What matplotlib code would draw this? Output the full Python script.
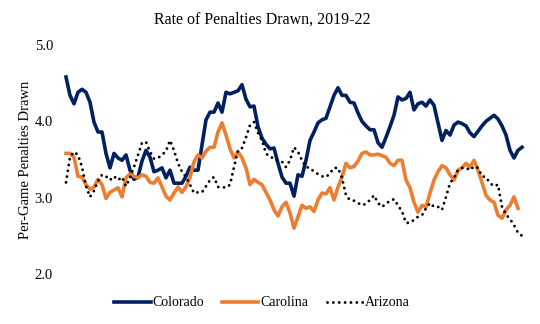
import matplotlib
matplotlib.use("Agg")
import matplotlib.pyplot as plt
import numpy as np

title = "Rate of Penalties Drawn, 2019-22"
ylabel = "Per-Game Penalties Drawn"
yticks = [2.0, 3.0, 4.0, 5.0]

colorado = [4.58, 4.34, 4.23, 4.38, 4.42, 4.38, 4.25, 3.99, 3.86, 3.86,
            3.58, 3.39, 3.58, 3.52, 3.49, 3.56, 3.36, 3.24, 3.27, 3.48,
            3.62, 3.53, 3.34, 3.36, 3.39, 3.26, 3.36, 3.19, 3.19, 3.19,
            3.28, 3.40, 3.36, 3.36, 3.69, 4.02, 4.12, 4.12, 4.24, 4.12,
            4.38, 4.36, 4.38, 4.40, 4.48, 4.29, 4.19, 4.20, 3.93, 3.78,
            3.70, 3.64, 3.65, 3.45, 3.27, 3.19, 3.19, 3.02, 3.30, 3.28,
            3.49, 3.75, 3.86, 3.98, 4.02, 4.04, 4.19, 4.34, 4.44, 4.34,
            4.34, 4.25, 4.24, 4.11, 4.00, 3.94, 3.89, 3.89, 3.72, 3.66,
            3.79, 3.93, 4.08, 4.32, 4.28, 4.30, 4.38, 4.15, 4.23, 4.25,
            4.20, 4.28, 4.21, 3.98, 3.75, 3.88, 3.82, 3.95, 3.99, 3.97,
            3.94, 3.85, 3.80, 3.87, 3.94, 4.00, 4.04, 4.08, 4.03, 3.94,
            3.82, 3.62, 3.52, 3.62, 3.66]

carolina = [3.58, 3.58, 3.53, 3.28, 3.27, 3.17, 3.11, 3.14, 3.24, 3.17,
            2.99, 3.07, 3.10, 3.13, 3.01, 3.26, 3.31, 3.28, 3.26, 3.30,
            3.28, 3.20, 3.19, 3.26, 3.14, 3.02, 2.97, 3.06, 3.14, 3.07,
            3.14, 3.27, 3.47, 3.56, 3.52, 3.61, 3.66, 3.66, 3.86, 3.98,
            3.82, 3.64, 3.52, 3.60, 3.52, 3.39, 3.17, 3.24, 3.20, 3.17,
            3.07, 2.97, 2.84, 2.76, 2.88, 2.94, 2.80, 2.60, 2.75, 2.90,
            2.86, 2.88, 2.82, 2.97, 3.06, 3.05, 3.13, 2.97, 3.14, 3.27,
            3.45, 3.39, 3.41, 3.48, 3.58, 3.60, 3.56, 3.56, 3.57, 3.55,
            3.53, 3.45, 3.42, 3.49, 3.49, 3.23, 3.13, 2.94, 2.81, 2.90,
            2.88, 3.06, 3.23, 3.34, 3.42, 3.39, 3.30, 3.23, 3.36, 3.39,
            3.45, 3.40, 3.49, 3.36, 3.20, 3.03, 2.97, 2.94, 2.77, 2.73,
            2.84, 2.90, 3.01, 2.86]

arizona = [3.20, 3.53, 3.60, 3.56, 3.40, 3.15, 3.01, 3.09, 3.22, 3.30,
           3.28, 3.23, 3.28, 3.23, 3.27, 3.15, 3.26, 3.40, 3.56, 3.72,
           3.73, 3.60, 3.51, 3.52, 3.56, 3.61, 3.75, 3.62, 3.45, 3.34,
           3.27, 3.17, 3.06, 3.07, 3.07, 3.15, 3.23, 3.27, 3.14, 3.14,
           3.13, 3.17, 3.40, 3.62, 3.65, 3.79, 3.95, 3.99, 3.85, 3.75,
           3.58, 3.53, 3.52, 3.48, 3.47, 3.40, 3.49, 3.66, 3.60, 3.49,
           3.40, 3.39, 3.34, 3.31, 3.28, 3.27, 3.32, 3.39, 3.39, 3.26,
           3.03, 2.97, 2.96, 2.93, 2.90, 2.92, 2.97, 3.03, 2.93, 2.88,
           2.92, 2.96, 2.98, 2.90, 2.82, 2.67, 2.67, 2.71, 2.75, 2.77,
           2.86, 2.93, 2.88, 2.88, 2.84, 3.01, 3.19, 3.26, 3.36, 3.39,
           3.39, 3.36, 3.41, 3.39, 3.28, 3.27, 3.19, 3.15, 3.17, 2.88,
           2.78, 2.72, 2.64, 2.54, 2.50]

series = [("Colorado", colorado, "#002060", "-"),
          ("Carolina", carolina, "#ED7D31", "-"),
          ("Arizona", arizona, "black", ":")]

plt.rcParams['font.family'] = ['Liberation Serif', 'DejaVu Serif']

fig = plt.figure(figsize=(5.4, 3.24), dpi=100)
ax = fig.add_axes([60/540, 50/324, 470/540, 229/324])

for name, vals, col, ls in series:
    x = np.arange(len(vals))
    if ls == ":":
        ax.plot(x, vals, color=col, linestyle=(0, (0.01, 2.0)), linewidth=2.1,
                dash_capstyle='round', label=name)
    else:
        ax.plot(x, vals, color=col, linestyle=ls, linewidth=2.6,
                solid_joinstyle='round', label=name)

ax.set_xlim(-1.5, 116)
ax.set_ylim(2.0, 5.0)
ax.set_yticks(yticks)
ax.set_yticklabels([f"{t:.1f}" for t in yticks], fontsize=10.5)
ax.set_xticks([])
ax.tick_params(axis='y', length=0, pad=5)
for s in ax.spines.values():
    s.set_visible(False)

ax.set_ylabel(ylabel, fontsize=10.5, labelpad=2)
fig.text(262/540, 1 - 20/324, title, ha='center', va='center', fontsize=11.5)

leg = ax.legend(loc='center', bbox_to_anchor=(262/540, 1 - 303/324),
                bbox_transform=fig.transFigure, ncol=3, frameon=False,
                fontsize=10, handlelength=2.6, handletextpad=0.15,
                columnspacing=1.3)

fig.savefig("out.png", dpi=100)
